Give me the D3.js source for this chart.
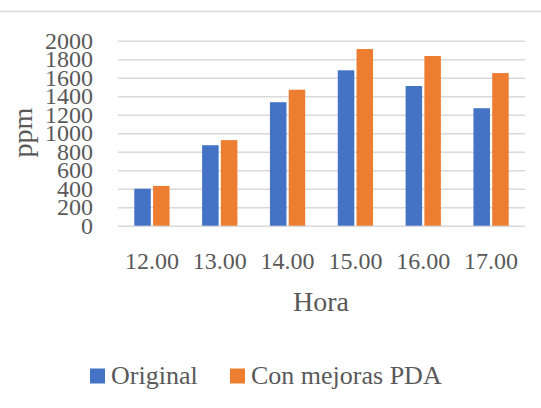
<!DOCTYPE html>
<html><head><meta charset="utf-8">
<script src="https://cdn.jsdelivr.net/npm/d3@7/dist/d3.min.js"></script>
<style>body{margin:0;background:#fff;}svg{display:block;}</style>
</head><body>
<script>
const categories = ["12.00","13.00","14.00","15.00","16.00","17.00"];
const seriesNames = ["Original","Con mejoras PDA"];
const original = [400, 870, 1335, 1680, 1510, 1270];
const mejoras = [430, 925, 1470, 1910, 1835, 1650];
const yTicks = [0,200,400,600,800,1000,1200,1400,1600,1800,2000];
const colors = ["#4472C4","#ED7D31"];

const W = 541, H = 408;
const svg = d3.select("body").append("svg").attr("width", W).attr("height", H);
const font = "'Liberation Serif', serif";
const textColor = "#595959";

svg.append("line").attr("x1",0).attr("x2",W).attr("y1",11.5).attr("y2",11.5)
  .attr("stroke","#d9d9d9").attr("stroke-width",1.5);

const m = {left:118, right:525, top:40.7, bottom:225.7};
const x = d3.scaleBand().domain(categories).range([m.left, m.right]).paddingInner(0.48).paddingOuter(0.24);
const xs = d3.scaleBand().domain(seriesNames).range([0, x.bandwidth()]).paddingInner(0.12);
const y = d3.scaleLinear().domain([0,2000]).range([m.bottom, m.top]);

const gy = svg.append("g").attr("transform",`translate(${m.left},0)`)
  .call(d3.axisLeft(y).tickValues(yTicks).tickSize(-(m.right-m.left)).tickPadding(25).tickFormat(d3.format("d")));
gy.select(".domain").remove();
gy.selectAll(".tick line").attr("stroke","#d9d9d9").attr("stroke-width",1.5);
gy.selectAll(".tick text").attr("fill",textColor).style("font-family",font).style("font-size","24px");

const data = categories.map((c,i)=>({c, vals:[original[i], mejoras[i]]}));
const g = svg.append("g");
data.forEach(d=>{
  d.vals.forEach((v,j)=>{
    g.append("rect")
      .attr("x", x(d.c)+xs(seriesNames[j]))
      .attr("width", xs.bandwidth())
      .attr("y", y(v))
      .attr("height", y(0)-y(v))
      .attr("fill", colors[j]);
  });
});

const gx = svg.append("g").attr("transform",`translate(0,${m.bottom})`)
  .call(d3.axisBottom(x).tickSize(0).tickPadding(26));
gx.select(".domain").remove();
gx.selectAll(".tick text").attr("fill",textColor).style("font-family",font).style("font-size","24px");

svg.append("text").attr("x",321).attr("y",311).attr("text-anchor","middle")
  .attr("fill",textColor).style("font-family",font).style("font-size","28px").text("Hora");
svg.append("text").attr("transform","translate(32,132.5) rotate(-90)").attr("text-anchor","middle")
  .attr("fill",textColor).style("font-family",font).style("font-size","28px").text("ppm");

const legendX = [90, 230];
seriesNames.forEach((s,j)=>{
  svg.append("rect").attr("x",legendX[j]).attr("y",368.5).attr("width",15).attr("height",15).attr("fill",colors[j]);
  svg.append("text").attr("x",legendX[j]+21).attr("y",383.5).attr("fill",textColor)
    .style("font-family",font).style("font-size","26px").text(s);
});
</script>
</body></html>
